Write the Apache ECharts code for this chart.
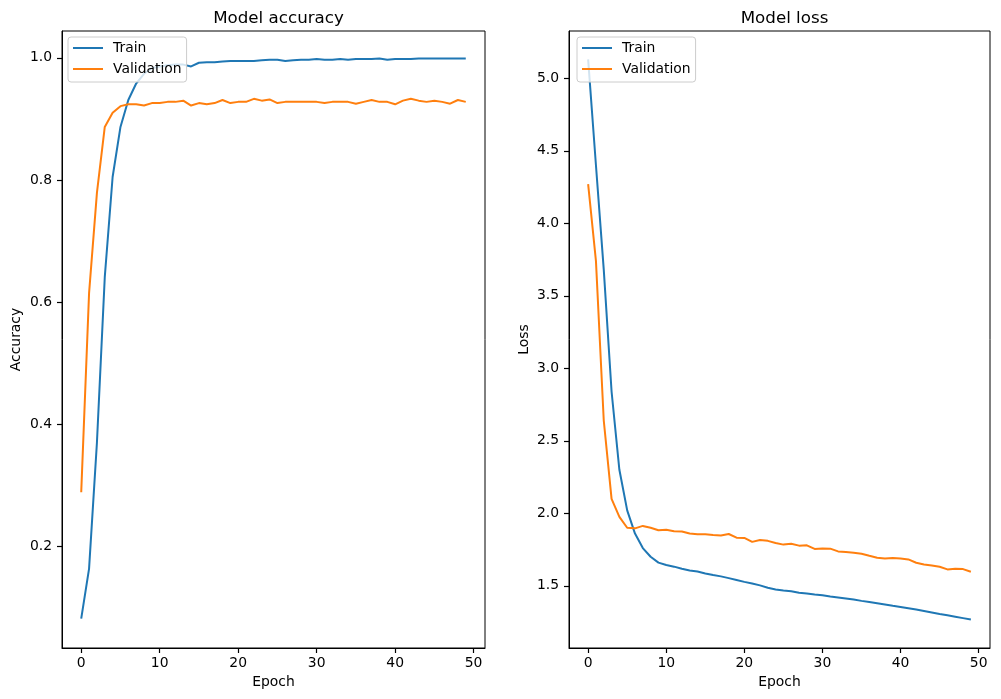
<!DOCTYPE html>
<html>
<head>
<meta charset="utf-8">
<script src="https://cdn.jsdelivr.net/npm/echarts@6/dist/echarts.min.js"></script>
<style>
html,body{margin:0;padding:0;background:#fff;}
#c{width:1001px;height:699px;}
</style>
</head>
<body>
<div id="c"></div>
<script>
const epochs = [0,1,2,3,4,5,6,7,8,9,10,11,12,13,14,15,16,17,18,19,20,21,22,23,24,25,26,27,28,29,30,31,32,33,34,35,36,37,38,39,40,41,42,43,44,45,46,47,48,49];

const trainAcc = [0.082,0.164,0.370,0.641,0.805,0.887,0.931,0.958,0.974,0.983,0.986,0.988,0.989,0.989,0.986,0.992,0.993,0.993,0.994,0.995,0.995,0.995,0.995,0.996,0.997,0.997,0.995,0.996,0.997,0.997,0.998,0.997,0.997,0.998,0.997,0.998,0.998,0.998,0.999,0.997,0.998,0.998,0.998,0.999,0.999,0.999,0.999,0.999,0.999,0.999];
const valAcc = [0.289,0.615,0.779,0.887,0.910,0.921,0.924,0.924,0.922,0.926,0.926,0.928,0.928,0.930,0.922,0.926,0.924,0.926,0.931,0.926,0.928,0.928,0.933,0.930,0.932,0.926,0.928,0.928,0.928,0.928,0.928,0.926,0.928,0.928,0.928,0.925,0.928,0.931,0.928,0.928,0.924,0.930,0.933,0.930,0.928,0.930,0.928,0.925,0.931,0.928];

const trainLoss = [5.13,4.40,3.68,2.84,2.30,2.02,1.86,1.76,1.70,1.66,1.643,1.632,1.617,1.605,1.598,1.585,1.574,1.565,1.553,1.540,1.527,1.516,1.503,1.486,1.475,1.468,1.462,1.452,1.447,1.440,1.434,1.426,1.420,1.413,1.405,1.396,1.388,1.380,1.371,1.362,1.354,1.345,1.336,1.326,1.316,1.306,1.297,1.287,1.277,1.267];
const valLoss = [4.27,3.74,2.64,2.10,1.975,1.90,1.896,1.913,1.90,1.883,1.886,1.876,1.874,1.860,1.856,1.855,1.850,1.847,1.857,1.832,1.830,1.803,1.816,1.810,1.795,1.784,1.790,1.777,1.779,1.754,1.758,1.756,1.737,1.733,1.728,1.721,1.707,1.694,1.689,1.691,1.689,1.682,1.659,1.647,1.640,1.631,1.613,1.618,1.615,1.597];

const xTicks = [0,10,20,30,40,50];
const accTicks = [0.2,0.4,0.6,0.8,1.0];
const lossTicks = [1.5,2.0,2.5,3.0,3.5,4.0,4.5,5.0];

const FONT = 'DejaVu Sans';
const pair = (xs, ys) => xs.map((x, i) => [x, ys[i]]);

function xAxisCfg(gridIndex){
  return {
    type:'value', gridIndex, min:-2.45, max:51.45, position:'bottom',
    name:'Epoch', nameLocation:'middle', nameGap:27,
    nameTextStyle:{color:'#000', fontFamily:FONT, fontSize:13.9},
    axisLine:{show:true, onZero:false, lineStyle:{color:'#000', width:1}},
    axisTick:{show:true, alignWithLabel:true, inside:false, length:5, lineStyle:{color:'#000', width:1.2}, customValues:xTicks},
    axisLabel:{color:'#000', fontFamily:FONT, fontSize:13.9, margin:8, customValues:xTicks, formatter:v=>String(v)},
    splitLine:{show:false}
  };
}
function yAxisCfg(gridIndex, min, max, ticks, name, gap){
  return {
    type:'value', gridIndex, min, max, position:'left',
    name, nameLocation:'middle', nameGap:gap,
    nameTextStyle:{color:'#000', fontFamily:FONT, fontSize:13.9},
    axisLine:{show:true, onZero:false, lineStyle:{color:'#000', width:1}},
    axisTick:{show:true, inside:false, length:5, lineStyle:{color:'#000', width:1.2}, customValues:ticks},
    axisLabel:{color:'#000', fontFamily:FONT, fontSize:13.9, margin:10, customValues:ticks, formatter:v=>v.toFixed(1)},
    splitLine:{show:false}
  };
}
function legendCfg(left, top, seriesNames){
  return {
    data:seriesNames, orient:'vertical', left, top,
    icon:'rect', itemWidth:30, itemHeight:2, itemGap:7,
    padding:[4,5,6,5],
    backgroundColor:'rgba(255,255,255,0.8)', borderColor:'#cccccc', borderWidth:1, borderRadius:3,
    textStyle:{color:'#000', fontFamily:FONT, fontSize:13.9, lineHeight:14, padding:[0,0,0,5]},
    selectedMode:false
  };
}

const chart = echarts.init(document.getElementById('c'), null, {renderer:'canvas'});
chart.setOption({
  animation:false,
  backgroundColor:'#fff',
  title:[
    {text:'Model accuracy', left:273.5, top:5, textAlign:'center', textStyle:{color:'#000', fontFamily:FONT, fontSize:16.7, fontWeight:'normal', lineHeight:17}},
    {text:'Model loss', left:779.5, top:5, textAlign:'center', textStyle:{color:'#000', fontFamily:FONT, fontSize:16.7, fontWeight:'normal', lineHeight:17}}
  ],
  grid:[
    {left:62, top:31, width:423, height:617, show:true, borderColor:'#000', borderWidth:1, backgroundColor:'transparent'},
    {left:569, top:31, width:421, height:617, show:true, borderColor:'#000', borderWidth:1, backgroundColor:'transparent'}
  ],
  xAxis:[xAxisCfg(0), xAxisCfg(1)],
  yAxis:[
    yAxisCfg(0, 0.034, 1.044, accTicks, 'Accuracy', 39),
    yAxisCfg(1, 1.071, 5.326, lossTicks, 'Loss', 38)
  ],
  legend:[
    legendCfg(68, 37, ['Train','Validation']),
    legendCfg(577, 37, ['Train','Validation'])
  ],
  series:[
    {name:'Train', type:'line', xAxisIndex:0, yAxisIndex:0, data:pair(epochs, trainAcc), showSymbol:false, symbol:'none', lineStyle:{color:'#1f77b4', width:2}, itemStyle:{color:'#1f77b4'}},
    {name:'Validation', type:'line', xAxisIndex:0, yAxisIndex:0, data:pair(epochs, valAcc), showSymbol:false, symbol:'none', lineStyle:{color:'#ff7f0e', width:2}, itemStyle:{color:'#ff7f0e'}},
    {name:'Train', type:'line', xAxisIndex:1, yAxisIndex:1, data:pair(epochs, trainLoss), showSymbol:false, symbol:'none', lineStyle:{color:'#1f77b4', width:2}, itemStyle:{color:'#1f77b4'}},
    {name:'Validation', type:'line', xAxisIndex:1, yAxisIndex:1, data:pair(epochs, valLoss), showSymbol:false, symbol:'none', lineStyle:{color:'#ff7f0e', width:2}, itemStyle:{color:'#ff7f0e'}}
  ]
});
</script>
</body>
</html>
